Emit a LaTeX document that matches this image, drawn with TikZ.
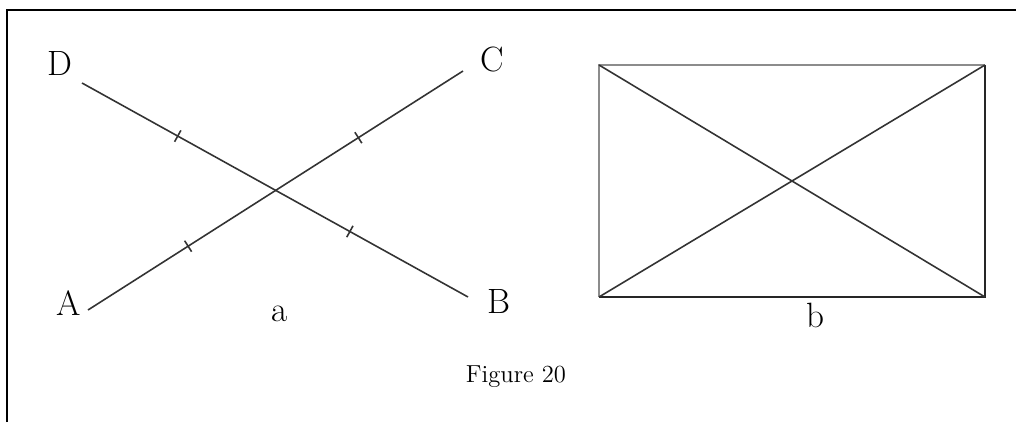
\documentclass[tikz,border=0pt]{standalone}
\usetikzlibrary{decorations.markings}

\tikzset{
    figline/.style={line width=0.9pt, black!80},
    lbl/.style={inner sep=0pt, font=\fontsize{20}{24}\selectfont},
    tickmarks/.style 2 args={postaction={decorate, decoration={markings,
        mark=at position #1 with {\draw[line width=0.9pt, black!80] (0,-0.13cm) -- (0,0.13cm);},
        mark=at position #2 with {\draw[line width=0.9pt, black!80] (0,-0.13cm) -- (0,0.13cm);}}}},
}

\begin{document}
\begin{tikzpicture}[x=0.02cm, y=-0.02cm]
    \useasboundingbox (0,0) rectangle (1016,422);
    % Page frame (top and left only)
    \draw[line width=1.1pt] (7,422) -- (7,10) -- (1016,10);
    % Part a: two crossing segments
    \coordinate (D) at (82,83);
    \coordinate (B) at (468,297);
    \coordinate (A) at (88,310);
    \coordinate (C) at (463,71);
    \draw[figline, tickmarks={0.248}{0.694}] (D) -- (B);
    \draw[figline, tickmarks={0.267}{0.721}] (A) -- (C);
    \node[lbl] (labD) at (60,64) {D};
    \node[lbl] (labC) at (492,60) {C};
    \node[lbl] (labA) at (69,303) {A};
    \node[lbl] (labB) at (499,301) {B};
    \node[lbl] (capa) at (280,314) {a};
    % Part b: rectangle with its diagonals
    \coordinate (P1) at (599,65);
    \coordinate (P2) at (985,65);
    \coordinate (P3) at (985,297);
    \coordinate (P4) at (599,297);
    \draw[line width=0.9pt, black!45] (P4) -- (P1) -- (P2);
    \draw[line width=0.9pt, black!85] (P2) -- (P3) -- (P4);
    \draw[figline] (P1) -- (P3);
    \draw[figline] (P4) -- (P2);
    \node[lbl] (capb) at (815,315) {b};
    % Caption
    \node[inner sep=0pt, font=\fontsize{14}{17}\selectfont] (caption) at (516,377) {Figure 20};
\end{tikzpicture}
\end{document}
